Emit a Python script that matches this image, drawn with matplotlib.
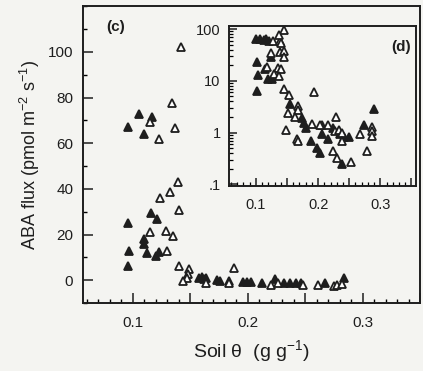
import numpy as np
import matplotlib
matplotlib.use('Agg')
import matplotlib.pyplot as plt
from matplotlib.ticker import MultipleLocator, FuncFormatter, LogLocator, NullFormatter

plt.rcParams['font.family'] = ['Liberation Sans', 'DejaVu Sans']
plt.rcParams['mathtext.fontset'] = 'custom'
plt.rcParams['mathtext.rm'] = 'Liberation Sans'
plt.rcParams['mathtext.it'] = 'Liberation Sans'

# main panel (c), linear scale
main_closed_x = [0.096, 0.105, 0.117, 0.110, 0.116, 0.121, 0.096, 0.110, 0.110, 0.097,
                 0.112, 0.1227, 0.120, 0.0957, 0.158, 0.160, 0.162, 0.164, 0.173, 0.176,
                 0.1835, 0.196, 0.199, 0.203, 0.212, 0.224, 0.232, 0.2365, 0.242, 0.2467,
                 0.267, 0.2835]
main_closed_y = [67, 72.8, 71.3, 64, 29.4, 27, 25, 18, 16, 13,
                 12, 12.4, 10.5, 6.1, 1.0, 1.5, 0.5, 1.0, 0.0, -0.3,
                 -0.5, -0.8, -0.8, -0.8, -1.0, 0.5, -1.0, -1.0, -1.0, -1.0,
                 -1.2, 0.8]
main_open_x = [0.142, 0.134, 0.115, 0.123, 0.137, 0.139, 0.132, 0.124, 0.140, 0.115,
               0.129, 0.1345, 0.1296, 0.140, 0.149, 0.148, 0.147, 0.1436, 0.1635, 0.188,
               0.1835, 0.2206, 0.226, 0.248, 0.261, 0.2748, 0.278, 0.282]
main_open_y = [102, 77.6, 69.5, 62, 66.7, 43, 38.7, 36.2, 30.7, 21,
               21.6, 19.4, 12.9, 6.4, 4.8, 2.6, 0.9, -0.5, -1.2, 5.2,
               -1.2, -2.0, -1.0, -2.0, -2.0, -2.5, -2.0, -1.5]

# inset panel (d), log scale
inset_closed_x = [0.100, 0.106, 0.113, 0.117, 0.121, 0.1237, 0.1016, 0.115, 0.1032, 0.1197,
                  0.1256, 0.1011, 0.154, 0.174, 0.177, 0.180, 0.206, 0.188, 0.198, 0.203,
                  0.2166, 0.2237, 0.206, 0.242, 0.250, 0.235, 0.238, 0.274, 0.290]
inset_closed_y = [64, 64, 62, 64, 60, 29, 23.4, 17, 12.9, 11,
                  11, 6.4, 3.5, 1.9, 1.5, 1.25, 0.95, 0.68, 0.5, 0.4,
                  0.76, 1.2, 1.4, 0.82, 0.82, 0.95, 0.25, 1.38, 2.9]
inset_open_x = [0.145, 0.127, 0.139, 0.141, 0.1375, 0.124, 0.1385, 0.145, 0.145, 0.1186,
                0.1355, 0.140, 0.129, 0.1375, 0.145, 0.153, 0.1935, 0.168, 0.168, 0.152,
                0.163, 0.190, 0.203, 0.2166, 0.148, 0.1656, 0.167, 0.229, 0.2274, 0.2328,
                0.238, 0.238, 0.2237, 0.230, 0.2527, 0.2667, 0.279, 0.2866, 0.2866, 0.2866]
inset_open_y = [96, 58, 58, 55, 76, 35, 36, 37, 29, 18.7,
                18, 17, 13.5, 12.3, 7.1, 5.3, 6.2, 3.2, 2.7, 2.4,
                2.0, 1.45, 1.4, 1.4, 1.12, 0.74, 0.7, 2.0, 1.05, 1.1,
                1.0, 0.7, 0.43, 0.32, 0.27, 0.93, 0.43, 1.3, 1.05, 0.85]

bg = '#f4f4f1'
ink = '#1e1e1e'

fig = plt.figure(figsize=(4.23, 3.71), dpi=100, facecolor=bg)
ax = fig.add_axes([0.196, 0.183, 0.797, 0.80], facecolor=bg)

mk = dict(marker='^', linestyle='none', markersize=5.5, markeredgewidth=1.3)
ax.plot(main_closed_x, main_closed_y, color=ink, markerfacecolor=ink, markeredgecolor=ink, **mk)
ax.plot(main_open_x, main_open_y, color=ink, markerfacecolor='white', markeredgecolor=ink, **mk)

ax.set_xlim(0.0565, 0.35)
ax.set_ylim(-10, 120)
ax.set_yticks([0, 20, 40, 60, 80, 100])
ax.yaxis.set_minor_locator(MultipleLocator(10))
ax.xaxis.set_major_locator(MultipleLocator(0.05))
ax.xaxis.set_minor_locator(MultipleLocator(0.01))
lab01 = FuncFormatter(lambda v, p: f'{v:.1f}' if abs(v * 10 - round(v * 10)) < 1e-6 else '')
ax.xaxis.set_major_formatter(lab01)
ax.tick_params(direction='in', which='major', length=7, width=1.1, labelsize=11, colors=ink)
ax.tick_params(direction='in', which='minor', length=3, width=1.0)
ax.tick_params(axis='x', which='major', pad=9)
ax.tick_params(axis='y', which='major', pad=7)
for s in ax.spines.values():
    s.set_linewidth(1.4)
    s.set_color(ink)

ax.set_xlabel('Soil θ  (g g$^{-1}$)', fontsize=14, color=ink, labelpad=6)
ax.set_ylabel('ABA flux (pmol m$^{-2}$ s$^{-1}$)', fontsize=13, color=ink, labelpad=4)
ax.text(0.07, 0.93, '(c)', transform=ax.transAxes, fontsize=11, color=ink,
        fontweight='bold', va='center')

# inset
axi = fig.add_axes([0.541, 0.499, 0.442, 0.431], facecolor=bg)
axi.plot(inset_closed_x, inset_closed_y, color=ink, markerfacecolor=ink, markeredgecolor=ink, **mk)
axi.plot(inset_open_x, inset_open_y, color=ink, markerfacecolor='white', markeredgecolor=ink, **mk)
axi.set_yscale('log')
axi.set_xlim(0.0565, 0.357)
axi.set_ylim(0.093, 115)
axi.yaxis.set_major_locator(LogLocator(base=10, numticks=10))
axi.yaxis.set_minor_locator(LogLocator(base=10, subs=np.arange(2, 10), numticks=20))
axi.yaxis.set_minor_formatter(NullFormatter())
ylabs = {100: '100', 10: '10', 1: '1', 0.1: '.1'}
axi.yaxis.set_major_formatter(FuncFormatter(
    lambda v, p: next((t for k, t in ylabs.items() if abs(v - k) < k * 1e-3), '')))
axi.xaxis.set_major_locator(MultipleLocator(0.05))
axi.xaxis.set_minor_locator(MultipleLocator(0.01))
axi.xaxis.set_major_formatter(lab01)
axi.tick_params(direction='in', which='major', length=6, width=1.1, labelsize=10.5, colors=ink)
axi.tick_params(direction='in', which='minor', length=3, width=0.9)
axi.tick_params(axis='x', which='major', pad=9)
axi.tick_params(axis='y', which='major', pad=6)
for s in axi.spines.values():
    s.set_linewidth(1.4)
    s.set_color(ink)
axi.text(0.92, 0.87, '(d)', transform=axi.transAxes, fontsize=11, color=ink,
         fontweight='bold', ha='center', va='center')

fig.savefig('out.png', dpi=100, facecolor=bg)
